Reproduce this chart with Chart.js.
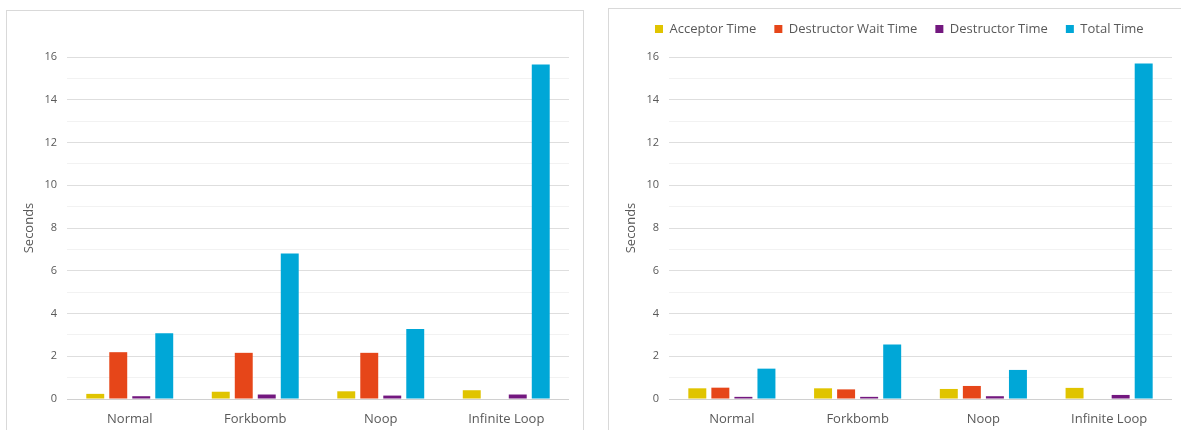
<!DOCTYPE html>
<html>
<head>
<meta charset="utf-8">
<script src="https://cdn.jsdelivr.net/npm/chart.js@4.4.1/dist/chart.umd.min.js"></script>
<style>
  html, body { margin: 0; padding: 0; background: #ffffff; width: 1181px; height: 430px; overflow: hidden; }
  .panel { position: absolute; background: #ffffff; box-sizing: content-box; }
  #panelA { left: 6px; top: 10px; width: 576px; height: 430px; border-left: 1px solid #d9d9d9; border-top: 1px solid #d9d9d9; border-right: 1px solid #d9d9d9; }
  #panelB { left: 608px; top: 8px; width: 580px; height: 430px; border-left: 1px solid #d9d9d9; border-top: 1px solid #d9d9d9; }
  canvas { display: block; }
</style>
</head>
<body>
<div class="panel" id="panelA"><canvas id="chartA" width="576" height="419" style="width:576px;height:419px"></canvas></div>
<div class="panel" id="panelB"><canvas id="chartB" width="572" height="421" style="width:572px;height:421px"></canvas></div>
<script>
// Scenario names along the x axis
const categories = ['Normal', 'Forkbomb', 'Noop', 'Infinite Loop'];
const seriesNames = ['Acceptor Time', 'Destructor Wait Time', 'Destructor Time', 'Total Time'];
const seriesColors = ['#e0c400', '#e64619', '#73187f', '#00a7d7'];

// First run (seconds)
const acceptorA   = [0.24, 0.34, 0.36, 0.41];
const waitA       = [2.19, 2.16, 2.16, 0];
const destructorA = [0.13, 0.21, 0.16, 0.21];
const totalA      = [3.08, 6.81, 3.28, 15.65];

// Second run (seconds)
const acceptorB   = [0.50, 0.50, 0.47, 0.52];
const waitB       = [0.53, 0.45, 0.61, 0];
const destructorB = [0.10, 0.10, 0.13, 0.19];
const totalB      = [1.42, 2.55, 1.36, 15.7];

// Y axis range and label step
const yMin = 0;
const yMax = 16;
const yLabelStep = 2;

const textColor = '#595959';
const fontFamily = '"Open Sans", "Noto Sans", sans-serif';

function makeDatasets(rows) {
  return rows.map((values, i) => ({
    label: seriesNames[i],
    data: values,
    backgroundColor: seriesColors[i],
    borderWidth: 0,
    categoryPercentage: 0.733,
    barPercentage: 0.78
  }));
}

// Pads the legend block so the plot starts lower
function legendSpacer(extra) {
  return {
    id: 'legendSpacer',
    beforeInit(chart) {
      const legend = chart.legend;
      if (!legend) return;
      const originalFit = legend.fit;
      legend.fit = function () {
        originalFit.call(this);
        this.height += extra;
      };
    }
  };
}

function makeOptions(cfg) {
  return {
    responsive: false,
    animation: false,
    layout: { padding: cfg.padding },
    plugins: {
      legend: {
        display: cfg.legend,
        position: 'top',
        align: 'start',
        labels: {
          boxWidth: 8,
          boxHeight: 8,
          padding: 18,
          color: textColor,
          font: { family: fontFamily, size: 13 }
        }
      },
      tooltip: { enabled: false }
    },
    scales: {
      x: {
        grid: { display: false },
        border: { display: false },
        ticks: {
          color: textColor,
          padding: 4,
          font: { family: fontFamily, size: 13 }
        },
        afterFit(scale) { scale.height = 31; }
      },
      y: {
        min: yMin,
        max: yMax,
        border: { display: false },
        grid: {
          drawTicks: false,
          color(ctx) {
            const v = ctx.tick ? ctx.tick.value : 0;
            if (v === 0) return '#d0d0d0';
            return v % yLabelStep === 0 ? '#dedede' : '#f2f2f2';
          },
          lineWidth: 1
        },
        ticks: {
          stepSize: 1,
          autoSkip: false,
          padding: 10,
          color: textColor,
          font: { family: fontFamily, size: 11 },
          callback(value) { return value % yLabelStep === 0 ? value : ''; }
        },
        title: {
          display: true,
          text: 'Seconds',
          color: textColor,
          font: { family: fontFamily, size: 13 },
          padding: { top: cfg.titleOffset, bottom: 0 }
        },
        afterFit(scale) { scale.width = cfg.yWidth; }
      }
    }
  };
}

new Chart(document.getElementById('chartA'), {
  type: 'bar',
  data: {
    labels: categories,
    datasets: makeDatasets([acceptorA, waitA, destructorA, totalA])
  },
  options: makeOptions({
    legend: false,
    padding: { top: 46, left: 0, right: 14, bottom: 0 },
    yWidth: 60,
    titleOffset: 14.5
  })
});

new Chart(document.getElementById('chartB'), {
  type: 'bar',
  data: {
    labels: categories,
    datasets: makeDatasets([acceptorB, waitB, destructorB, totalB])
  },
  options: makeOptions({
    legend: true,
    padding: { top: -4.5, left: 28, right: 9, bottom: 0 },
    yWidth: 32,
    titleOffset: -13.5
  }),
  plugins: [legendSpacer(11.5)]
});
</script>
</body>
</html>
